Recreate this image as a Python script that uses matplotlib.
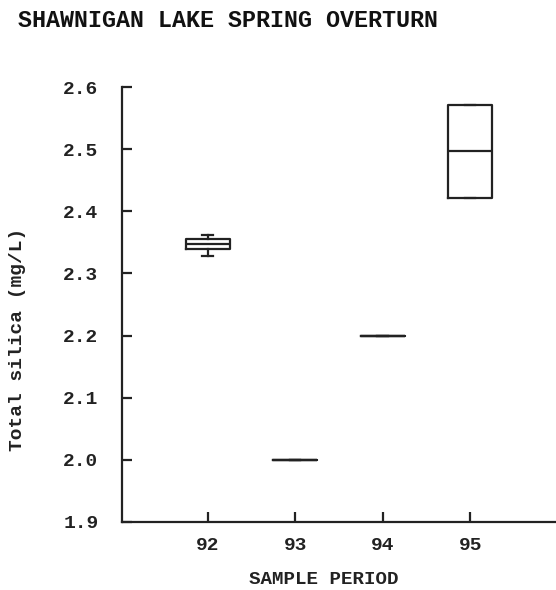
import matplotlib
matplotlib.use('Agg')
import matplotlib.pyplot as plt

# box statistics per sample period
periods = [92, 93, 94, 95]
whisker_low = [2.328, 2.0, 2.2, 2.422]
q1 = [2.340, 2.0, 2.2, 2.422]
median = [2.347, 2.0, 2.2, 2.497]
q3 = [2.355, 2.0, 2.2, 2.571]
whisker_high = [2.362, 2.0, 2.2, 2.571]

plt.rcParams['font.family'] = ['Liberation Mono', 'DejaVu Sans Mono']
plt.rcParams['font.weight'] = 'bold'

fig = plt.figure(figsize=(5.56, 5.90), dpi=100)
ax = fig.add_axes([0.2194, 0.1153, 0.7806, 0.7372])

stats = []
for i in range(len(periods)):
    stats.append({'whislo': whisker_low[i], 'q1': q1[i], 'med': median[i],
                  'q3': q3[i], 'whishi': whisker_high[i], 'fliers': []})

lw = 1.6
ax.bxp(stats, positions=periods, widths=0.5, showfliers=False,
       boxprops=dict(color='#222222', linewidth=lw),
       medianprops=dict(color='#222222', linewidth=lw),
       whiskerprops=dict(color='#222222', linewidth=lw),
       capprops=dict(color='#222222', linewidth=lw),
       capwidths=0.12)

ax.set_xlim(91.02, 95.98)
ax.set_ylim(1.9, 2.6)
ax.set_xticks(periods)
ax.set_xticklabels([str(p) for p in periods])
ax.set_yticks([1.9, 2.0, 2.1, 2.2, 2.3, 2.4, 2.5, 2.6])
ax.set_yticklabels(['1.9', '2.0', '2.1', '2.2', '2.3', '2.4', '2.5', '2.6'])

ax.spines['top'].set_visible(False)
ax.spines['right'].set_visible(False)
ax.spines['left'].set_linewidth(lw)
ax.spines['bottom'].set_linewidth(lw)
ax.spines['left'].set_color('#222222')
ax.spines['bottom'].set_color('#222222')
ax.tick_params(direction='in', length=7, width=lw, color='#222222',
               labelsize=14, labelcolor='#222222')
ax.tick_params(axis='y', pad=17)
ax.tick_params(axis='x', pad=11)

fig.text(0.582, 0.018, 'SAMPLE PERIOD', fontsize=13.8, color='#222222',
         ha='center', va='center')
fig.text(0.032, 0.424, 'Total silica (mg/L)', rotation=90, fontsize=14,
         color='#222222', ha='center', va='center')
fig.text(0.032, 0.966, 'SHAWNIGAN LAKE SPRING OVERTURN', fontsize=16.8,
         color='#111111', ha='left', va='center')

fig.savefig('out.png', dpi=100)
